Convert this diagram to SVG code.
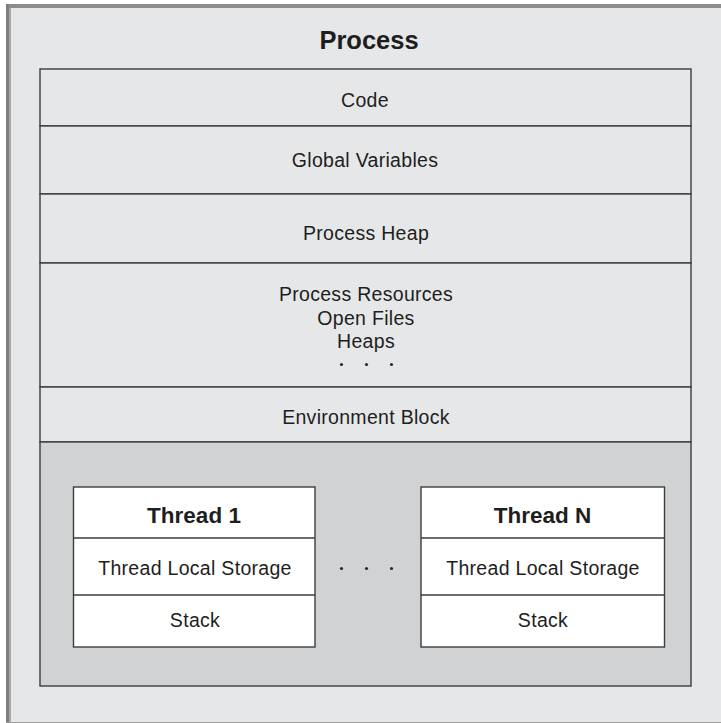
<svg xmlns="http://www.w3.org/2000/svg" width="721" height="723" viewBox="0 0 721 723">
  <style>
    .frame { fill: #e6e7e8; }
    .row { fill: #e6e7e8; stroke: #3c3c3c; stroke-width: 1.4; }
    .pool { fill: #d1d2d4; stroke: #3c3c3c; stroke-width: 1.4; }
    .cell { fill: #ffffff; stroke: #3c3c3c; stroke-width: 1.4; }
    .sep { stroke: #3c3c3c; stroke-width: 1.4; fill: none; }
    text { font-family: "Liberation Sans", Arial, sans-serif; fill: #1e1e1e; text-anchor: middle; }
    .label { font-size: 19.5px; letter-spacing: 0.3px; }
    .title { font-size: 25.5px; font-weight: bold; }
    .head { font-size: 22.5px; font-weight: bold; }
    .dot { fill: #2a2a2a; }
  </style>

  <rect x="0" y="0" width="721" height="723" fill="#ffffff"/>

  <!-- outer process frame -->
  <g id="process">
    <rect class="frame" x="6" y="4" width="715" height="718"/>
    <rect x="6" y="4" width="715" height="4" fill="#8c8c8c"/>
    <rect x="6" y="4" width="3" height="718" fill="#7e7e7e"/>
    <rect x="9" y="8" width="2" height="714" fill="#a8a8a8"/>
    <line x1="6" y1="722.5" x2="721" y2="722.5" stroke="#a0a0a0" stroke-width="1"/>
    <text class="title" x="369" y="48.5">Process</text>
  </g>

  <!-- address-space sections -->
  <g id="code">
    <rect class="row" x="40" y="69" width="651" height="57"/>
    <text class="label" x="365" y="107">Code</text>
  </g>
  <g id="global-variables">
    <rect class="row" x="40" y="126" width="651" height="68"/>
    <text class="label" x="365" y="166.5">Global Variables</text>
  </g>
  <g id="process-heap">
    <rect class="row" x="40" y="194" width="651" height="69"/>
    <text class="label" x="366" y="239.5">Process Heap</text>
  </g>
  <g id="process-resources">
    <rect class="row" x="40" y="263" width="651" height="124"/>
    <text class="label" x="366" y="300.5">Process Resources</text>
    <text class="label" x="366" y="324.5">Open Files</text>
    <text class="label" x="366" y="347.5">Heaps</text>
    <circle class="dot" cx="341.5" cy="364.5" r="1.6"/>
    <circle class="dot" cx="366.5" cy="364.5" r="1.6"/>
    <circle class="dot" cx="391.5" cy="364.5" r="1.6"/>
  </g>
  <g id="environment-block">
    <rect class="row" x="40" y="387" width="651" height="55"/>
    <text class="label" x="366" y="423.5">Environment Block</text>
  </g>

  <!-- thread area -->
  <g id="threads">
    <rect class="pool" x="40" y="442" width="651" height="244"/>
    <circle class="dot" cx="341.5" cy="568.5" r="1.6"/>
    <circle class="dot" cx="366.5" cy="568.5" r="1.6"/>
    <circle class="dot" cx="391.5" cy="568.5" r="1.6"/>
  </g>

  <g id="thread-1">
    <rect class="cell" x="73.5" y="487" width="241.5" height="160"/>
    <line class="sep" x1="73.5" y1="538" x2="315" y2="538"/>
    <line class="sep" x1="73.5" y1="595" x2="315" y2="595"/>
    <text class="head" x="194" y="522.5">Thread 1</text>
    <text class="label" x="195" y="574.5">Thread Local Storage</text>
    <text class="label" x="195" y="626.5">Stack</text>
  </g>

  <g id="thread-n">
    <rect class="cell" x="421" y="487" width="243.5" height="160"/>
    <line class="sep" x1="421" y1="538" x2="664.5" y2="538"/>
    <line class="sep" x1="421" y1="595" x2="664.5" y2="595"/>
    <text class="head" x="542.5" y="522.5">Thread N</text>
    <text class="label" x="543" y="574.5">Thread Local Storage</text>
    <text class="label" x="543" y="626.5">Stack</text>
  </g>
</svg>
